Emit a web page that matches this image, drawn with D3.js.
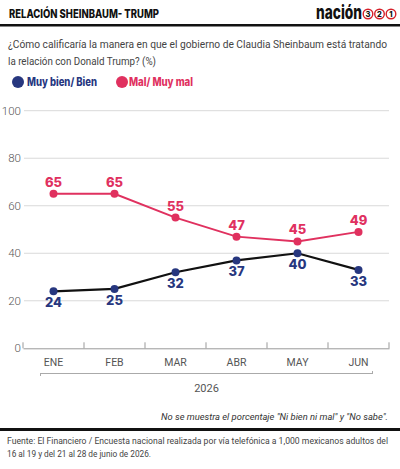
<!DOCTYPE html>
<html><head><meta charset="utf-8">
<script src="https://cdn.jsdelivr.net/npm/d3@7"></script>
<style>
html,body{margin:0;padding:0;background:#fff;}
svg{display:block;font-family:Roboto, "Open Sans", sans-serif;}
</style></head>
<body>
<svg id="c" width="400" height="469"></svg>
<script>
const months = ["ENE","FEB","MAR","ABR","MAY","JUN"];
const bien = [24,25,32,37,40,33];
const mal = [65,65,55,47,45,49];
const yTicks = [0,20,40,60,80,100];
const seriesNames = ["Muy bien/ Bien","Mal/ Muy mal"];
const yearLabel = "2026";

const navy = "#27377f", pink = "#e0315f";
const bold = "Inter, 'Open Sans', sans-serif";
const svg = d3.select("#c");

function fit(sel, len){ return sel.attr("textLength",len).attr("lengthAdjust","spacingAndGlyphs"); }

// Header
fit(svg.append("text").attr("x",9).attr("y",18).attr("font-size",11.5).attr("font-weight",800)
  .attr("font-family",bold).attr("fill","#111").text("RELACIÓN SHEINBAUM- TRUMP"),150);
fit(svg.append("text").attr("x",316).attr("y",19).attr("font-size",19)
  .attr("font-weight",800).attr("font-family",bold).attr("fill","#111").text("nación"),46);
["3","2","1"].forEach((d,i)=>{
  const cx = 368 + i*11.5;
  svg.append("circle").attr("cx",cx).attr("cy",14).attr("r",4.8).attr("fill","#fff").attr("stroke","#d6202a").attr("stroke-width",1.4);
  svg.append("text").attr("x",cx).attr("y",17).attr("text-anchor","middle").attr("font-size",7.5).attr("font-weight",800).attr("font-family",bold).attr("fill","#111").text(d);
});
svg.append("rect").attr("x",0).attr("y",24).attr("width",400).attr("height",2.5).attr("fill","#111");

// Question
fit(svg.append("text").attr("x",8).attr("y",47.5).attr("font-size",11.3).attr("fill","#444")
  .text("¿Cómo calificaría la manera en que el gobierno de Claudia Sheinbaum está tratando"),379);
fit(svg.append("text").attr("x",8).attr("y",65).attr("font-size",11.3).attr("fill","#444")
  .text("la relación con Donald Trump? (%)"),148);

// Legend
[[navy,18,seriesNames[0],27,70],[pink,122,seriesNames[1],129,64]].forEach(([col,cx,t,tx,len])=>{
  svg.append("circle").attr("cx",cx).attr("cy",82).attr("r",6).attr("fill",col);
  fit(svg.append("text").attr("x",tx).attr("y",86).attr("font-size",11.3).attr("font-weight",800)
    .attr("font-family",bold).attr("fill",col).text(t),len);
});

// Scales
const x = d3.scaleBand().domain(months).range([23,389]);
const y = d3.scaleLinear().domain([0,100]).range([348.3,110.7]);
const xc = m => x(m) + x.bandwidth()/2;

// Grid + y labels
const g = svg.append("g");
yTicks.filter(t=>t>0).forEach(t=>{
  g.append("line").attr("x1",24).attr("x2",389).attr("y1",y(t)).attr("y2",y(t)).attr("stroke","#d9d9d9").attr("stroke-width",1);
});
const yAxis = d3.axisLeft(y).tickValues(yTicks).tickSize(0).tickPadding(0);
const ya = svg.append("g").attr("transform","translate(21,0)").call(yAxis);
ya.select(".domain").remove();
ya.selectAll("text").attr("font-size",11.5).attr("fill","#555").attr("font-weight",300).attr("font-family","Roboto, sans-serif");

// X axis
const xAxis = d3.axisBottom(x).tickSize(0).tickPadding(10);
const xa = svg.append("g").attr("transform",`translate(0,${y(0)})`).call(xAxis);
xa.select(".domain").attr("stroke","#999");
xa.selectAll("text").attr("font-size",10.5).attr("fill","#555").attr("font-family","Roboto, sans-serif");
const edges = months.map(m=>x(m)).concat([x(months[months.length-1])+x.bandwidth()]);
edges.forEach(e=>{
  svg.append("line").attr("x1",e).attr("x2",e).attr("y1",y(0)).attr("y2",y(0)-6).attr("stroke","#999");
});

// Year bracket
svg.append("line").attr("x1",40).attr("x2",373).attr("y1",373.5).attr("y2",373.5).attr("stroke","#aaa");
svg.append("line").attr("x1",40.5).attr("x2",40.5).attr("y1",373.5).attr("y2",376).attr("stroke","#aaa");
svg.append("line").attr("x1",372.5).attr("x2",372.5).attr("y1",371).attr("y2",373.5).attr("stroke","#aaa");
svg.append("text").attr("x",206.5).attr("y",392).attr("text-anchor","middle").attr("font-size",11).attr("fill","#555").text(yearLabel);

// Lines
const line = d3.line().x((d,i)=>xc(months[i])).y(d=>y(d));
svg.append("path").datum(mal).attr("d",line).attr("fill","none").attr("stroke",pink).attr("stroke-width",2);
svg.append("path").datum(bien).attr("d",line).attr("fill","none").attr("stroke","#111").attr("stroke-width",2.2);

svg.selectAll(".pm").data(mal).join("circle").attr("cx",(d,i)=>xc(months[i])).attr("cy",d=>y(d)).attr("r",4).attr("fill",pink);
svg.selectAll(".pb").data(bien).join("circle").attr("cx",(d,i)=>xc(months[i])).attr("cy",d=>y(d)).attr("r",4).attr("fill",navy);

svg.selectAll(".lm").data(mal).join("text").attr("x",(d,i)=>xc(months[i])).attr("y",d=>y(d)-7)
  .attr("text-anchor","middle").attr("font-size",13).attr("font-weight",800).attr("font-family",bold).attr("fill",pink).text(d=>d);
svg.selectAll(".lb").data(bien).join("text").attr("x",(d,i)=>xc(months[i])).attr("y",d=>y(d)+16)
  .attr("text-anchor","middle").attr("font-size",13).attr("font-weight",800).attr("font-family",bold).attr("fill",navy).text(d=>d);

// Footnote
fit(svg.append("text").attr("x",161).attr("y",420).attr("font-size",9.6).attr("font-style","italic")
  .attr("fill","#333").text("No se muestra el porcentaje \"Ni bien ni mal\" y \"No sabe\"."),227);
svg.append("rect").attr("x",0).attr("y",428).attr("width",400).attr("height",3).attr("fill","#111");
fit(svg.append("text").attr("x",7).attr("y",444).attr("font-size",9.6).attr("fill","#444")
  .text("Fuente: El Financiero /  Encuesta nacional realizada por vía telefónica a 1,000 mexicanos adultos del"),381);
fit(svg.append("text").attr("x",7).attr("y",457).attr("font-size",9.6).attr("fill","#444")
  .text("16 al 19 y del 21 al 28 de junio de 2026."),144);
</script>
</body></html>
